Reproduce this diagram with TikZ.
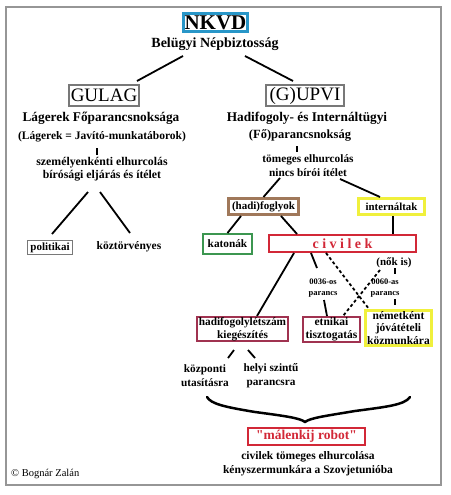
\documentclass[tikz,border=0pt]{standalone}
\usepackage{fontspec}
\setmainfont{Liberation Serif}
\newfontfamily\qfont{Liberation Serif}
\usetikzlibrary{calc}
\definecolor{nkblue}{RGB}{40,150,200}
\definecolor{boxgray}{RGB}{120,120,120}
\definecolor{framegray}{RGB}{150,150,150}
\definecolor{hbrown}{RGB}{160,120,90}
\definecolor{hyellow}{RGB}{240,240,60}
\definecolor{hgreen}{RGB}{60,150,80}
\definecolor{hred}{RGB}{210,40,55}
\definecolor{hmaroon}{RGB}{160,50,80}
\newcommand\fsz[2]{\fontsize{#1}{#2}\selectfont}
\begin{document}
\begin{tikzpicture}[x=1pt,y=-1pt,
  txt/.style={inner sep=0pt, align=center},
  box/.style={draw, inner sep=0pt, align=center},
  conn/.style={line width=1.8pt, black},
  dconn/.style={line width=1.8pt, black, dash pattern=on 3pt off 2.5pt},
]
\useasboundingbox (0,0) rectangle (450,495);
\draw[line width=2pt, framegray] (6,7) rectangle (441,485);

% top
\node[box, draw=nkblue, line width=3pt, minimum width=64pt, minimum height=18pt, font=\bfseries\fsz{21}{21}] (nkvd) at (215.5,22.5) {NKVD};
\node[txt, font=\bfseries\fsz{14}{16}] (bel) at (215,44) {Belügyi Népbiztosság};

\node[box, draw=boxgray, line width=1.6pt, minimum width=70pt, minimum height=21pt, font=\fsz{19}{19}] (gulag) at (104,95.5) {GULAG};
\node[box, draw=boxgray, line width=1.6pt, minimum width=78pt, minimum height=21pt, font=\fsz{19}{19}] (gupvi) at (305,95.5) {(G)UPVI};

\coordinate (belL) at (183,56);
\coordinate (gulT) at (137,81);
\coordinate (belR) at (245,56);
\coordinate (gupT) at (293,81);
\draw[conn] (belL) -- (gulT);
\draw[conn] (belR) -- (gupT);

% GULAG side
\node[txt, font=\bfseries\fsz{13.3}{15}] (lag) at (101,118) {Lágerek Főparancsnoksága};
\node[txt, font=\bfseries\fsz{11.5}{13}] (lageq) at (102,137) {(Lágerek = Javító-munkatáborok)};
\coordinate (tl1) at (97,148);
\coordinate (tl2) at (97,155);
\draw[conn] (tl1) -- (tl2);
\node[txt, font=\bfseries\fsz{11.8}{12.5}] (szem) at (102,169) {személyenkénti elhurcolás\\bírósági eljárás és ítélet};
\coordinate (szL) at (88,192);
\coordinate (poT) at (52,234);
\coordinate (szR) at (100,192);
\coordinate (kzT) at (130,233);
\draw[conn] (szL) -- (poT);
\draw[conn] (szR) -- (kzT);
\node[box, draw=boxgray, line width=1pt, minimum width=45pt, minimum height=14pt, font=\bfseries\fsz{11}{12}] (polit) at (50,247.5) {politikai};
\node[txt, font=\bfseries\fsz{11.5}{12}] (koz) at (129,247) {köztörvényes};

% GUPVI side
\node[txt, font=\bfseries\fsz{13.3}{15}] (hadint) at (307,118) {Hadifogoly- és Internáltügyi};
\node[txt, font=\bfseries\fsz{12.5}{14}] (fopar) at (300,135) {(Fő)parancsnokság};
\coordinate (tr1) at (297,146);
\coordinate (tr2) at (297,152);
\draw[conn] (tr1) -- (tr2);
\node[txt, font=\bfseries\fsz{11.3}{14}] (tomeg) at (308,166) {tömeges elhurcolás\\nincs bírói ítélet};

\node[box, draw=hbrown, line width=3pt, minimum width=70pt, minimum height=16pt, font=\bfseries\fsz{11}{12}] (hadifog) at (263.5,206.5) {(hadi)foglyok};
\node[box, draw=hyellow, line width=3pt, minimum width=66pt, minimum height=16pt, font=\bfseries\fsz{10.8}{12}] (intern) at (391.5,206.5) {internáltak};
\coordinate (toL) at (280,178);
\coordinate (toR) at (340,179);
\draw[conn] (toL) -- (hadifog.north);
\draw[conn] (toR) -- ($(intern.north west)+(23,0)$);

\node[box, draw=hgreen, line width=2pt, minimum width=49pt, minimum height=20pt, font=\bfseries\fsz{11.3}{12}] (katonak) at (227.5,244) {katonák};
\node[box, draw=hred, line width=2pt, minimum width=147pt, minimum height=17pt, text=hred, font=\bfseries\fsz{14}{14}] (civ) at (342.5,243.5) {c i v i l e k};
\draw[conn] ($(hadifog.south west)+(14,0)$) -- (katonak.north);
\draw[conn] ($(hadifog.south west)+(54,0)$) -- ($(civ.north west)+(29,0)$);
\draw[conn] ([xshift=1.5pt]intern.south) -- ([xshift=1.5pt]intern.south |- civ.north);

\node[txt, font=\bfseries\fsz{11}{12}] (nokis) at (394,263) {(nők is)};
\node[txt, font=\bfseries\fsz{8.5}{11}] (l0036) at (323,288) {0036-os\\parancs};
\node[txt, font=\bfseries\fsz{8.5}{11}] (l0060) at (385,288) {0060-as\\parancs};

\node[box, draw=hmaroon, line width=2pt, minimum width=91pt, minimum height=24pt, font=\bfseries\fsz{11.3}{13}] (hadkieg) at (242.5,329) {hadifogolylétszám\\kiegészítés};
\node[box, draw=hmaroon, line width=2pt, minimum width=57pt, minimum height=25pt, font=\bfseries\fsz{11.5}{13}] (etn) at (331.5,329.5) {etnikai\\tisztogatás};
\node[box, draw=hyellow, line width=3pt, minimum width=66pt, minimum height=35pt, font=\bfseries\fsz{11.5}{12.5}] (nemet) at (398.5,328) {németként\\jóvátételi\\közmunkára};

\draw[conn] ($(civ.south west)+(26,0)$) -- ($(hadkieg.north west)+(61,0)$);
\coordinate (p36a) at (317,268);
\coordinate (p36b) at (324,300);
\draw[conn] ($(civ.south west)+(43,0)$) -- (p36a);
\draw[conn] (p36b) -- ($(etn.north west)+(25,0)$);
\draw[dconn] ($(civ.south west)+(58,0)$) -- ($(nemet.north west)+(5,0)$);
\coordinate (nkA) at (380,270);
\draw[dconn] (nkA) -- ($(etn.north east)+(-18,0)$);
\coordinate (p60a) at (395,268);
\coordinate (p60b) at (395,274);
\draw[conn] (p60a) -- (p60b);
\coordinate (p60c) at (395,299);
\coordinate (p60d) at (395,305);
\draw[conn] (p60c) -- (p60d);

% bottom
\coordinate (hkL) at (234,350);
\coordinate (hkL2) at (228,358);
\coordinate (hkR) at (248,350);
\coordinate (hkR2) at (255,358);
\draw[conn] (hkL) -- (hkL2);
\draw[conn] (hkR) -- (hkR2);
\node[txt, font=\bfseries\fsz{11.3}{14}] (kozp) at (205,376) {központi\\utasításra};
\node[txt, font=\bfseries\fsz{11.3}{14}] (helyi) at (271,376) {helyi szintű\\parancsra};

\draw[line width=2.5pt, line cap=round, line join=round] (207,397) .. controls (211,404) and (225,407) .. (255,412) .. controls (285,416) and (300,418) .. (305,422) .. controls (310,418) and (325,416) .. (355,411) .. controls (385,407) and (405,405) .. (410,397);

\node[box, draw=hred, line width=2pt, minimum width=117pt, minimum height=17pt, text=hred, font=\bfseries\fsz{13.5}{14}] (malen) at (306.5,436.5) {{\qfont"}málenkij robot{\qfont"}};
\node[txt, font=\bfseries\fsz{11.5}{14}] (civtom) at (308,464) {civilek tömeges elhurcolása\\kényszermunkára a Szovjetunióba};
\node[anchor=west, inner sep=0pt, font=\fsz{10.5}{12}] (copy) at (11,474) {© Bognár Zalán};
\end{tikzpicture}
\end{document}
